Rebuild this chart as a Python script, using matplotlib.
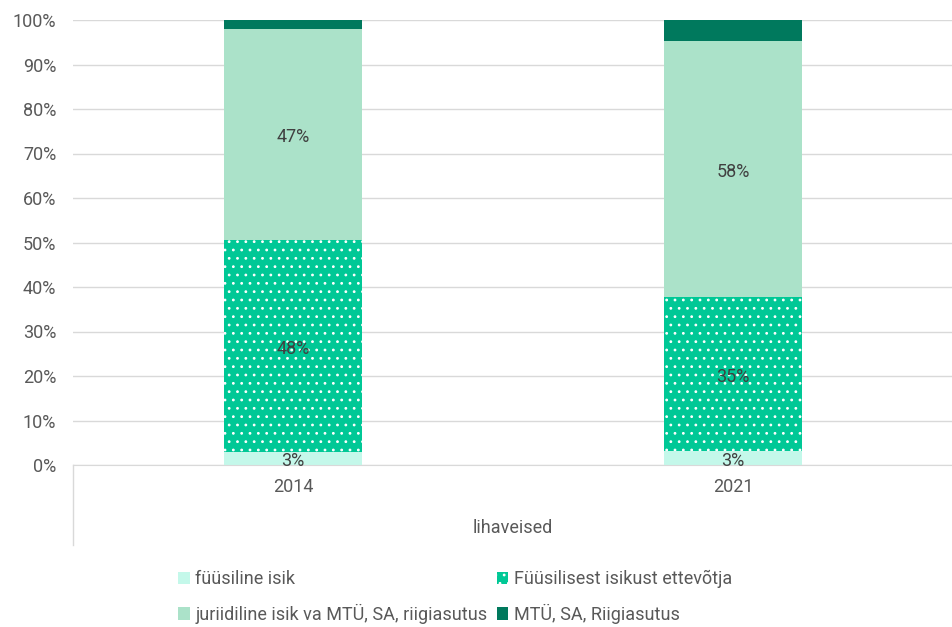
import matplotlib.pyplot as plt
import numpy as np

plt.rcParams['font.family'] = ['Roboto', 'DejaVu Sans']
plt.rcParams['hatch.color'] = 'white'
plt.rcParams['hatch.linewidth'] = 0.8

years = ['2014', '2021']
group = 'lihaveised'
names = ['füüsiline isik', 'Füüsilisest isikust ettevõtja',
         'juriidiline isik va MTÜ, SA, riigiasutus', 'MTÜ, SA, Riigiasutus']
fyysiline = [2.9, 3.1]
fie = [47.7, 34.6]
juriidiline = [47.4, 57.6]
mtu = [2.0, 4.7]
labels_show = [True, True, True, False]

series = [fyysiline, fie, juriidiline, mtu]
colors = ['#C4F8EA', '#00C896', '#ABE2C9', '#00795D']
hatches = [None, '..', None, None]

fig = plt.figure(figsize=(9.53, 6.27), dpi=100)
ax = fig.add_axes([73 / 953, 1 - 465 / 627, 1 - 73 / 953, (465 - 20) / 627])

x = np.arange(len(years))
bottom = np.zeros(len(years))
handles = []
for vals, col, h, name, show in zip(series, colors, hatches, names, labels_show):
    b = ax.bar(x, vals, width=0.315, bottom=bottom, color=col, hatch=h,
               edgecolor=col if h is None else 'white', linewidth=0, label=name, zorder=2)
    handles.append(b)
    if show:
        for xi, v, bt in zip(x, vals, bottom):
            ax.text(xi, bt + v / 2 - 0.6, '%d%%' % round(v), ha='center', va='center',
                    fontsize=13, color='#404040', zorder=3)
    bottom += np.array(vals)

ax.set_xlim(-0.5, 1.5)
ax.set_ylim(0, 100)
ax.set_yticks(np.arange(0, 101, 10))
ax.set_yticklabels(['%d%%' % v for v in range(0, 101, 10)], fontsize=13, color='#595959')
ax.yaxis.grid(True, color='#D9D9D9', linewidth=1, zorder=0)
ax.set_axisbelow(True)
ax.tick_params(axis='y', length=0, pad=12)
ax.tick_params(axis='x', length=0, pad=9)
ax.set_xticks(x)
ax.set_xticklabels(years, fontsize=13, color='#595959')
for s in ['top', 'right', 'left']:
    ax.spines[s].set_visible(False)
ax.spines['bottom'].set_color('#D9D9D9')

# group label and category-axis frame lines
ax.text(0.5, -63 / 445 * 100, group, ha='center', va='center', fontsize=13,
        color='#595959', clip_on=False)
ax.plot([-0.5, -0.5], [0, -80 / 445 * 100], color='#D9D9D9', linewidth=1, clip_on=False)
ax.plot([1.5, 1.5], [0, -80 / 445 * 100], color='#D9D9D9', linewidth=1, clip_on=False)

order = [0, 2, 1, 3]
fig.legend(handles=[handles[i] for i in order], loc='upper left',
           bbox_to_anchor=(162 / 953, 1 - 554 / 627),
           ncol=2, frameon=False, fontsize=13, labelcolor='#595959',
           handlelength=0.65, handleheight=0.65, handletextpad=0.3,
           columnspacing=0.5, labelspacing=0.85)

fig.savefig('out.png', dpi=100)
